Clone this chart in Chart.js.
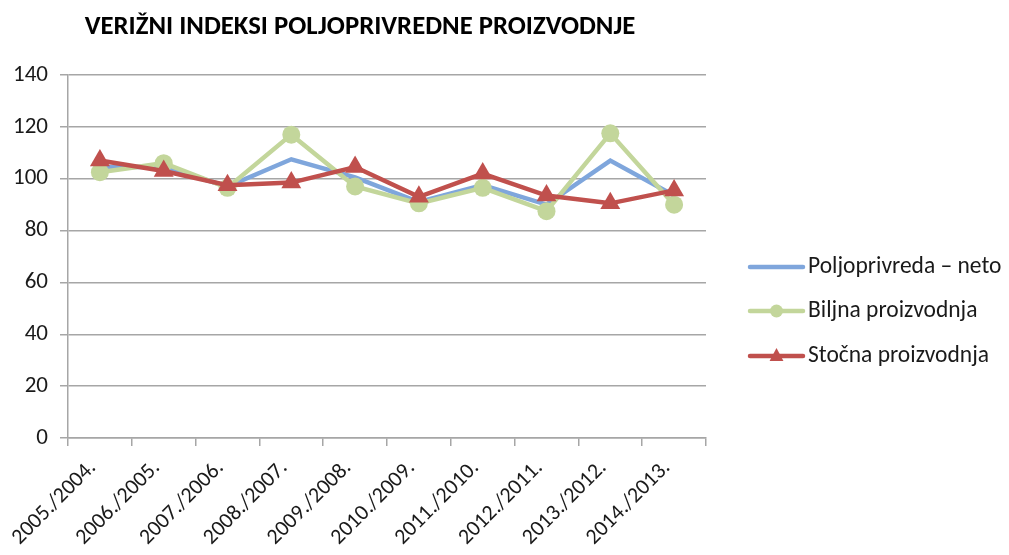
<!DOCTYPE html>
<html>
<head>
<meta charset="utf-8">
<script src="https://cdn.jsdelivr.net/npm/chart.js@4"></script>
<style>
html,body{margin:0;padding:0;background:#fff;}
#wrap{width:1009px;height:555px;position:relative;}
</style>
</head>
<body>
<div id="wrap"><canvas id="c" width="1009" height="555"></canvas></div>
<script>
const titleText = 'VERIŽNI INDEKSI POLJOPRIVREDNE PROIZVODNJE';
const categories = ['2005./2004.','2006./2005.','2007./2006.','2008./2007.','2009./2008.','2010./2009.','2011./2010.','2012./2011.','2013./2012.','2014./2013.'];
const seriesNames = ['Poljoprivreda – neto','Biljna proizvodnja','Stočna proizvodnja'];
const netoValues   = [104.5, 104.5, 97, 107.5, 100.5, 91, 97.5, 90, 107, 93.5];
const biljnaValues = [102.5, 106, 96.5, 117, 97, 90.5, 96.5, 87.5, 117.5, 90];
const stocnaValues = [107, 103, 97.5, 98.5, 104.5, 93, 102, 93.5, 90.5, 95.5];
const yTicks = [0, 20, 40, 60, 80, 100, 120, 140];

const FONT = "Carlito, 'Liberation Sans', Arial, sans-serif";
const BLUE = '#7fa6dc', GREEN = '#c3d69b', RED = '#c0504d';
const GRID = '#a6a6a6';
const TEXT = '#1a1a1a';

const decor = {
  id: 'decor',
  afterDraw(chart) {
    const ctx = chart.ctx;
    ctx.save();
    // title
    let size = 22;
    ctx.font = 'bold ' + size + 'px ' + FONT;
    const w = ctx.measureText(titleText).width;
    size = size * 551 / w;
    ctx.font = 'bold ' + size.toFixed(2) + 'px ' + FONT;
    ctx.fillStyle = '#000';
    ctx.textAlign = 'center';
    ctx.textBaseline = 'middle';
    ctx.fillText(titleText, 360, 27);
    // legend
    const rows = [267, 311, 356];
    const x0 = 750, x1 = 803;
    chart.data.datasets.forEach((ds, i) => {
      const y = rows[i];
      ctx.strokeStyle = ds.borderColor;
      ctx.lineWidth = 4.5;
      ctx.lineCap = 'round';
      ctx.beginPath(); ctx.moveTo(x0, y); ctx.lineTo(x1, y); ctx.stroke();
      ctx.fillStyle = ds.borderColor;
      const cx = (x0 + x1) / 2;
      if (ds.pointStyle === 'circle') {
        ctx.beginPath(); ctx.arc(cx, y, 6.5, 0, Math.PI * 2); ctx.fill();
      } else if (ds.pointStyle === 'triangle') {
        const r = 8;
        ctx.beginPath();
        ctx.moveTo(cx, y - r);
        ctx.lineTo(cx + r * 0.866, y + r * 0.5 + 1);
        ctx.lineTo(cx - r * 0.866, y + r * 0.5 + 1);
        ctx.closePath(); ctx.fill();
      }
      ctx.fillStyle = TEXT;
      ctx.textAlign = 'left';
      ctx.textBaseline = 'middle';
      ctx.font = '23.5px ' + FONT;
      ctx.fillText(seriesNames[i], 808, y);
    });
    ctx.restore();
  }
};

new Chart(document.getElementById('c'), {
  type: 'line',
  data: {
    labels: categories,
    datasets: [
      { label: seriesNames[0], data: netoValues, borderColor: BLUE, backgroundColor: BLUE,
        borderWidth: 4.5, pointRadius: 0, pointHoverRadius: 0, pointStyle: false, order: 2, tension: 0 },
      { label: seriesNames[1], data: biljnaValues, borderColor: GREEN, backgroundColor: GREEN,
        borderWidth: 4.5, pointStyle: 'circle', pointRadius: 9, pointBorderWidth: 0, order: 1, tension: 0 },
      { label: seriesNames[2], data: stocnaValues, borderColor: RED, backgroundColor: RED,
        borderWidth: 4.5, pointStyle: 'triangle', pointRadius: 11.5, pointBorderWidth: 0, order: 0, tension: 0 }
    ]
  },
  options: {
    responsive: false,
    animation: false,
    layout: { padding: { left: 0, right: 303, top: 75, bottom: 0 } },
    plugins: { legend: { display: false }, title: { display: false }, tooltip: { enabled: false } },
    scales: {
      x: {
        type: 'category',
        offset: true,
        grid: { offset: true, drawOnChartArea: false, drawTicks: true, tickLength: 8, color: GRID, lineWidth: 1.5 },
        border: { display: true, color: GRID, width: 1.5 },
        ticks: { minRotation: 45, maxRotation: 45, autoSkip: false, color: TEXT, padding: 9, labelOffset: -7,
                 font: { family: FONT, size: 22 } },
        afterFit(scale) { scale.height = 117; }
      },
      y: {
        min: 0, max: 140,
        afterBuildTicks(scale) { scale.ticks = yTicks.map(v => ({ value: v })); },
        grid: { color: GRID, lineWidth: 1.5, drawTicks: true, tickLength: 8 },
        border: { display: true, color: GRID, width: 1.5 },
        ticks: { color: TEXT, padding: 12, font: { family: FONT, size: 23 } },
        afterFit(scale) { scale.width = 68; }
      }
    }
  },
  plugins: [decor]
});
</script>
</body>
</html>
